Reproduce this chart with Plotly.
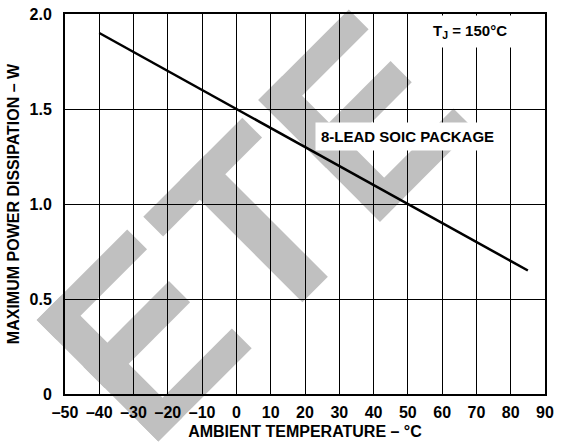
import math
import plotly.graph_objects as go

# derating curve, 8-lead SOIC, Tj = 150 C
temp_c = [-40, 85]
power_w = [1.9, 0.65]

x_ticks = [-50, -40, -30, -20, -10, 0, 10, 20, 30, 40, 50, 60, 70, 80, 90]
x_labels = ['–50', '–40', '–30', '–20', '–10', '0', '10', '20', '30', '40', '50', '60', '70', '80', '90']
y_ticks = [0, 0.5, 1.0, 1.5, 2.0]
y_labels = ['0', '0.5', '1.0', '1.5', '2.0']

FONT = 'Liberation Sans'
W, H = 562, 443
L, R, T, B = 65, 17, 14, 49
PW, PH = W - L - R, H - T - B

fig = go.Figure()

fig.add_trace(go.Scatter(
    x=temp_c, y=power_w, mode='lines',
    line=dict(color='black', width=2.5),
    hoverinfo='skip', showlegend=False))


# grey "ETE" watermark, letters tilted 45 deg (pixel geometry -> paper coords)
def bar(ox, oy, u0, u1, v0, v1):
    s = 1 / math.sqrt(2)
    pts = []
    for u, v in [(u0, v0), (u1, v0), (u1, v1), (u0, v1)]:
        px = ox + (u + v) * s
        py = oy + (u - v) * s
        pts.append(((px - L) / PW, (H - B - py) / PH))
    return 'M ' + ' L '.join('%.4f %.4f' % p for p in pts) + ' Z'


letter_e = [(0, 172, 0, 34), (0, 28, 0, 128), (66, 96, 0, 121), (144, 172, 0, 132)]
letter_t = [(0, 28, 0, 140), (0, 173, 52, 88)]

bars = [bar(36.7, 320, *r) for r in letter_e]
bars += [bar(143.3, 216.7, *r) for r in letter_t]
bars += [bar(258.3, 100, *r) for r in letter_e]

for p in bars:
    fig.add_shape(type='path', path=p, xref='paper', yref='paper',
                  fillcolor='#c0c0c0', line_width=0, layer='below')

fig.add_annotation(x=68, y=1.91, text='<b>T<sub>J</sub> = 150°C</b>', showarrow=False,
                   font=dict(family=FONT, size=15, color='black'),
                   bgcolor='white', borderpad=6)
fig.add_annotation(x=50, y=1.353, text='<b>8-LEAD SOIC PACKAGE</b>', showarrow=False,
                   font=dict(family=FONT, size=15, color='black'),
                   bgcolor='white', borderpad=5)

fig.update_layout(
    width=W, height=H,
    margin=dict(l=L, r=R, t=T, b=B, autoexpand=False),
    paper_bgcolor='white',
    plot_bgcolor='rgba(0,0,0,0)',
    font=dict(family=FONT, size=16, color='black'),
    xaxis=dict(
        range=[-50, 90], tickvals=x_ticks,
        ticktext=['<b>%s</b>' % t for t in x_labels],
        showgrid=True, gridcolor='black', gridwidth=1.4, zeroline=False,
        showline=True, linecolor='black', linewidth=2, mirror=True,
        ticks='', ticklabelstandoff=3, automargin=False,
        title=dict(text='<b>AMBIENT TEMPERATURE – °C</b>', standoff=6,
                   font=dict(family=FONT, size=16))),
    yaxis=dict(
        range=[0, 2], tickvals=y_ticks,
        ticktext=['<b>%s</b>' % t for t in y_labels],
        showgrid=True, gridcolor='black', gridwidth=1.4, zeroline=False,
        showline=True, linecolor='black', linewidth=2, mirror=True,
        ticks='', ticklabelstandoff=8, automargin=False,
        title=dict(text='<b>MAXIMUM POWER DISSIPATION – W</b>', standoff=6,
                   font=dict(family=FONT, size=16))),
)

# page body has a default 8px margin; drop it so the figure sits at 0,0
fig.write_html('out.html', config={'displayModeBar': False},
               post_script="document.body.style.margin='0px';")
